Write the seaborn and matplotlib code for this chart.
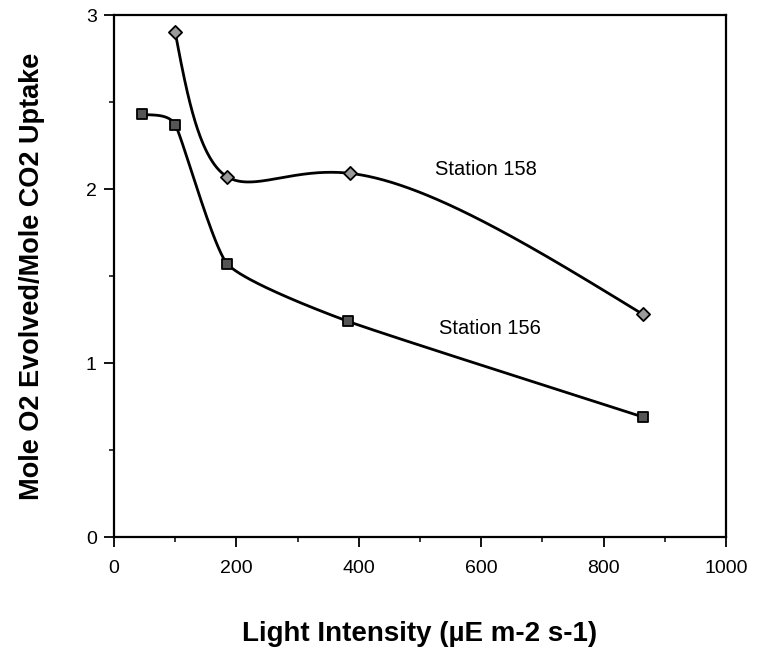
import numpy as np
import pandas as pd
import matplotlib
matplotlib.use("Agg")
import matplotlib.pyplot as plt
import seaborn as sns

# Light intensity (µE m-2 s-1) and O2/CO2 molar ratio for each station
light_158 = [100, 185, 386, 864]
ratio_158 = [2.90, 2.07, 2.09, 1.28]

light_156 = [46, 100, 185, 382, 864]
ratio_156 = [2.43, 2.37, 1.57, 1.24, 0.69]

x_ticks = [0, 200, 400, 600, 800, 1000]
y_ticks = [0, 1, 2, 3]

sns.set_theme(style="ticks")
plt.rcParams["font.family"] = ["Liberation Sans", "DejaVu Sans"]
plt.rcParams["text.color"] = "black"
plt.rcParams["axes.labelcolor"] = "black"

XR, YR = 1000.0, 3.0      # axis spans
SX, SY = 612.0, 522.0     # approximate on-screen size of the axes, px


def natural_spline(t, v, tt):
    """Natural cubic spline of v over knots t, evaluated at tt."""
    n = len(t) - 1
    h = np.diff(t)
    A = np.zeros((n + 1, n + 1))
    b = np.zeros(n + 1)
    A[0, 0] = A[n, n] = 1.0
    for i in range(1, n):
        A[i, i - 1] = h[i - 1]
        A[i, i] = 2 * (h[i - 1] + h[i])
        A[i, i + 1] = h[i]
        b[i] = 6 * ((v[i + 1] - v[i]) / h[i] - (v[i] - v[i - 1]) / h[i - 1])
    M = np.linalg.solve(A, b)
    idx = np.clip(np.searchsorted(t, tt, side="right") - 1, 0, n - 1)
    hi = h[idx]
    a = t[idx + 1] - tt
    c = tt - t[idx]
    return (M[idx] * a ** 3 / (6 * hi) + M[idx + 1] * c ** 3 / (6 * hi)
            + (v[idx] / hi - M[idx] * hi / 6) * a + (v[idx + 1] / hi - M[idx + 1] * hi / 6) * c)


def spline_curve(xs, ys, alpha=0.3, n=400):
    """Parametric natural spline through the points in screen-like space."""
    px = np.asarray(xs, float) / XR * SX
    py = np.asarray(ys, float) / YR * SY
    d = np.hypot(np.diff(px), np.diff(py)) ** alpha
    t = np.concatenate([[0.0], np.cumsum(d)])
    tt = np.linspace(0, t[-1], n)
    return natural_spline(t, px, tt) / SX * XR, natural_spline(t, py, tt) / SY * YR


def cardinal_curve(xs, ys, scale=0.5, n=80):
    """Cardinal (tensioned Catmull-Rom) curve: straight runs with rounded joints."""
    p = np.column_stack([np.asarray(xs, float) / XR * SX, np.asarray(ys, float) / YR * SY])
    m = np.zeros_like(p)
    m[1:-1] = scale * (p[2:] - p[:-2]) / 2
    m[0] = scale * (p[1] - p[0])
    m[-1] = scale * (p[-1] - p[-2])
    s = np.linspace(0, 1, n)[:, None]
    h00 = 2 * s ** 3 - 3 * s ** 2 + 1
    h10 = s ** 3 - 2 * s ** 2 + s
    h01 = -2 * s ** 3 + 3 * s ** 2
    h11 = s ** 3 - s ** 2
    segs = []
    for i in range(len(p) - 1):
        seg = h00 * p[i] + h10 * m[i] + h01 * p[i + 1] + h11 * m[i + 1]
        segs.append(seg if i == 0 else seg[1:])
    out = np.vstack(segs)
    return out[:, 0] / SX * XR, out[:, 1] / SY * YR


fig = plt.figure(figsize=(7.57, 6.56), dpi=100)
ax = fig.add_axes([0.1506, 0.1814, 0.8085, 0.7957])

cx, cy = spline_curve(light_158, ratio_158)
ax.plot(cx, cy, color="black", lw=2.0, zorder=2)
cx, cy = cardinal_curve(light_156, ratio_156)
ax.plot(cx, cy, color="black", lw=2.0, zorder=2)

df158 = pd.DataFrame({"light": light_158, "ratio": ratio_158})
df156 = pd.DataFrame({"light": light_156, "ratio": ratio_156})
sns.scatterplot(data=df158, x="light", y="ratio", marker="D", s=45,
                color="#9a9a9a", edgecolor="black", linewidth=1.3, ax=ax, zorder=3)
sns.scatterplot(data=df156, x="light", y="ratio", marker="s", s=62,
                color="#555555", edgecolor="black", linewidth=1.3, ax=ax, zorder=3)

ax.text(608, 2.11, "Station 158", ha="center", va="center", fontsize=14.5)
ax.text(614, 1.20, "Station 156", ha="center", va="center", fontsize=14.5)

ax.set_xlim(0, 1000)
ax.set_ylim(0, 3)
ax.set_xticks(x_ticks)
ax.set_yticks(y_ticks)
ax.set_xticks([100, 300, 500, 700, 900], minor=True)
ax.set_yticks([0.5, 1.5, 2.5], minor=True)
ax.tick_params(which="major", direction="out", length=7.5, width=1.3, labelsize=14,
               colors="black")
ax.tick_params(axis="x", which="major", pad=9)
ax.tick_params(axis="y", which="major", pad=5)
ax.tick_params(which="minor", direction="out", length=3.5, width=1.1, colors="black")
for s in ax.spines.values():
    s.set_visible(True)
    s.set_color("black")
    s.set_linewidth(1.6)

ax.set_xlabel("Light Intensity (µE m-2 s-1)", fontsize=20, fontweight="bold", labelpad=32)
ax.set_ylabel("Mole O2 Evolved/Mole CO2 Uptake", fontsize=19.5, fontweight="bold", labelpad=29)

fig.savefig("out.png", dpi=100, facecolor="white")
